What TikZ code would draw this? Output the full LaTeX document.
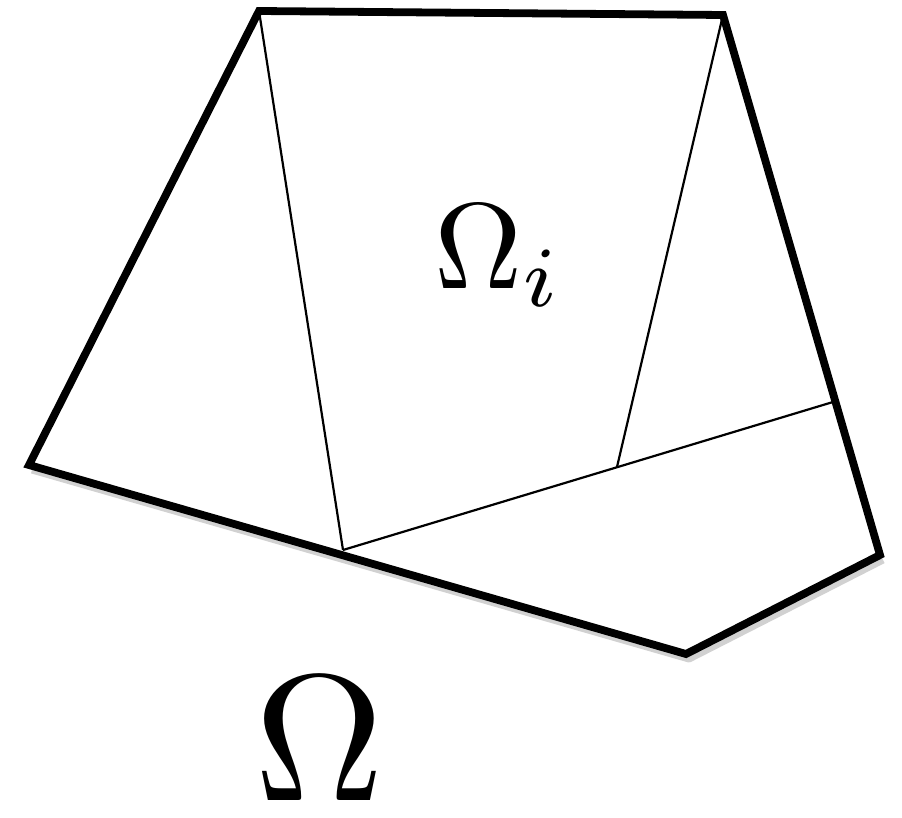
\documentclass[tikz,border=0pt]{standalone}
\begin{document}
\begin{tikzpicture}[x=1pt,y=-1pt,
  outer/.style={line width=7.8pt,line join=miter,line cap=round},
  shadow/.style={line width=7pt,draw=black!18,line join=round},
  inner/.style={line width=2.2pt},
  lbl/.style={inner sep=0pt}]
\useasboundingbox (0,0) rectangle (902,818);
\coordinate (TL) at (259,11);
\coordinate (TR) at (723,15);
\coordinate (L) at (29,465);
\coordinate (M) at (343,550);
\coordinate (B) at (686,654);
\coordinate (RB) at (880,555);
\coordinate (RM) at (833,402);
\coordinate (IJ) at (617,467);
% shadow
\draw[shadow] ([shift={(3,5)}]L) -- ([shift={(3,5)}]B) -- ([shift={(3,5)}]RB);
% inner thin lines
\draw[inner] (TL) -- (M);
\draw[inner] (M) -- (RM);
\draw[inner] (TR) -- (IJ);
% outer polygon
\draw[outer] (TL) -- (TR) -- (RB) -- (B) -- (L) -- cycle;
\node[lbl,anchor=base west,scale=12.2] (oi) at (432,288) {$\Omega_i$};
\node[lbl,anchor=base,scale=18] (o) at (319,800) {$\Omega$};
\end{tikzpicture}
\end{document}
